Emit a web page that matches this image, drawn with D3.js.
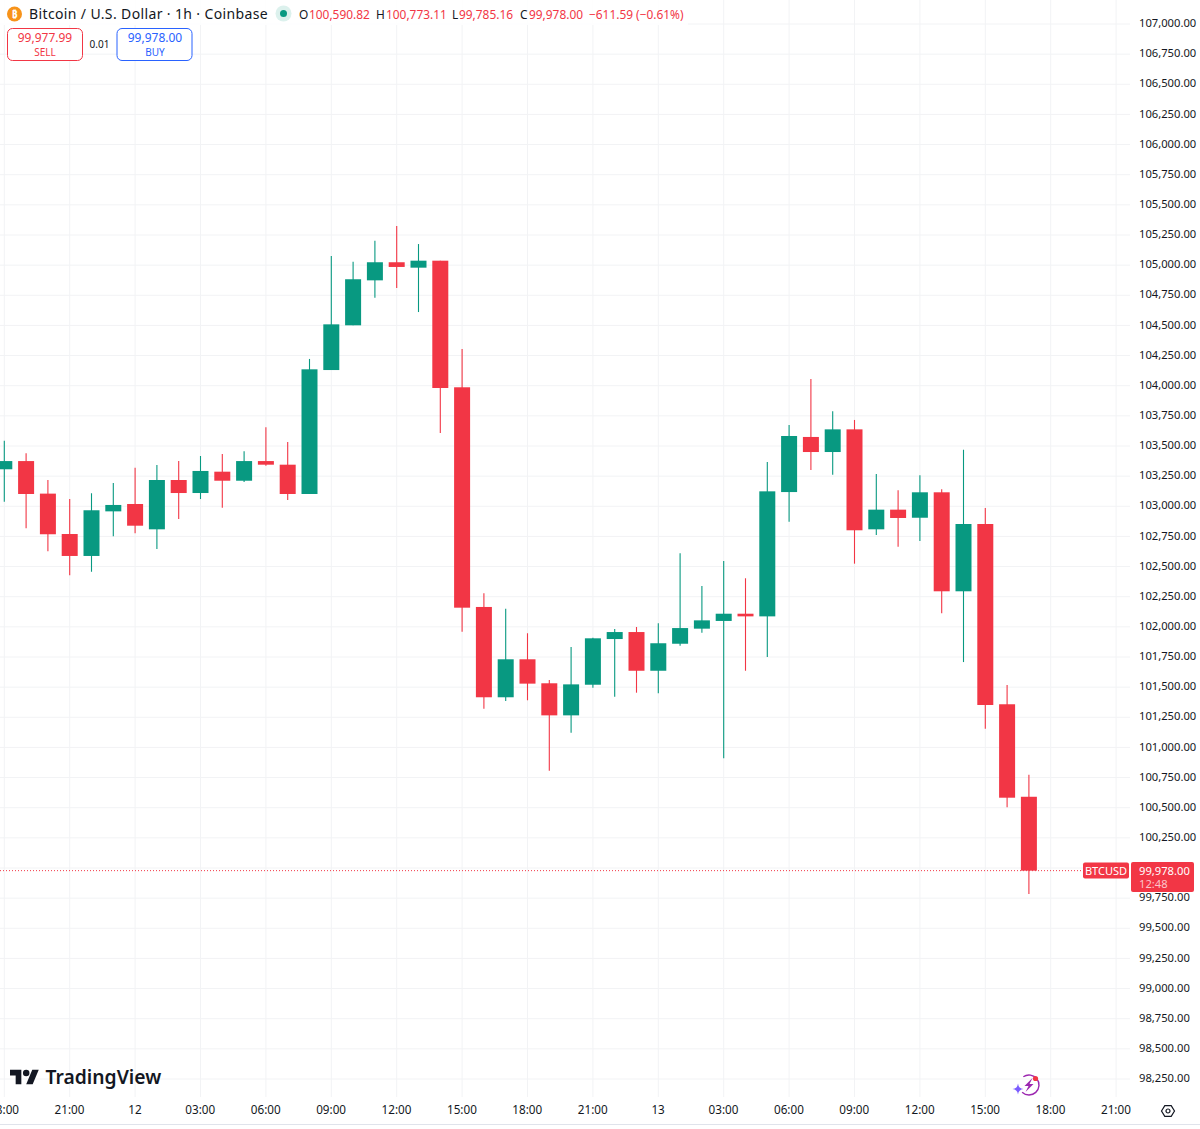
<!DOCTYPE html>
<html>
<head>
<meta charset="utf-8">
<title>BTCUSD 1h</title>
<script src="https://cdn.jsdelivr.net/npm/d3@7"></script>
<style>
  html, body { margin: 0; padding: 0; background: #fff; }
  text { font-family: "Noto Sans", sans-serif; }
</style>
</head>
<body>
<svg id="chart" width="1200" height="1129"></svg>
<script>
  // candles, one per hour, left to right
  var opens = [103307, 103375, 103105, 102770, 102588, 102958, 103019, 102809, 103218, 103110, 103287, 103212,
    103375, 103345, 103102, 104130, 104501, 104874, 105024, 104979, 105037, 103987, 102165, 101416,
    101731, 101532, 101266, 101520, 101899, 101957, 101636, 101860, 101985, 102049, 102109, 102087,
    103118, 103575, 103450, 103638, 102809, 102972, 102905, 103116, 102295, 102853, 101358, 100590.82];
  var highs = [103544, 103439, 103218, 103060, 103108, 103193, 103320, 103342, 103375, 103417, 103434, 103456,
    103655, 103533, 104222, 105076, 105029, 105203, 105325, 105175, 105037, 104304, 102278, 102151,
    101947, 101559, 101833, 101910, 101982, 101999, 102029, 102610, 102339, 102546, 102403, 103367,
    103674, 104056, 103788, 103716, 103268, 103132, 103257, 103141, 103469, 102986, 101518, 100773.11];
  var lows = [103038, 102817, 102627, 102428, 102457, 102751, 102776, 102646, 102894, 103060, 102988, 103201,
    103337, 103052, 103102, 104130, 104501, 104730, 104810, 104611, 103608, 101960, 101321, 101385,
    101391, 100807, 101122, 101495, 101421, 101454, 101449, 101844, 101951, 100910, 101636, 101750,
    102872, 103301, 103262, 102524, 102762, 102665, 102712, 102112, 101708, 101155, 100503, 99785.16];
  var closes = [103375, 103102, 102768, 102588, 102967, 103011, 102839, 103218, 103110, 103293, 103212, 103375,
    103345, 103102, 104136, 104509, 104883, 105024, 104985, 105037, 103981, 102159, 101416, 101731,
    101529, 101266, 101523, 101905, 101957, 101636, 101864, 101990, 102054, 102109, 102087, 103124,
    103583, 103450, 103638, 102801, 102972, 102903, 103116, 102295, 102853, 101352, 100583, 99978];

  var timeTicks = [0, 3, 6, 9, 12, 15, 18, 21, 24, 27, 30, 33, 36, 39, 42, 45, 48, 51];
  var timeLabels = ["18:00", "21:00", "12", "03:00", "06:00", "09:00", "12:00", "15:00", "18:00", "21:00", "13",
    "03:00", "06:00", "09:00", "12:00", "15:00", "18:00", "21:00"];
  var priceTicks = d3.range(98250, 107001, 250);
  var lastPrice = 99978;

  var GREEN = "#089981", RED = "#F23645", BLUE = "#2962FF", INK = "#131722", GRID = "#f2f3f5";

  var svg = d3.select("#chart");
  var x = d3.scaleLinear().domain([0, 47]).range([4.3, 1028.9]);
  var y = d3.scaleLinear().domain([107000, 98250]).range([24, 1079]);
  var paneRight = 1130, paneBottom = 1097;
  var candles = d3.range(opens.length);

  // grid
  svg.append("g").selectAll("line").data(priceTicks).join("line")
    .attr("x1", 0).attr("x2", paneRight)
    .attr("y1", function (d) { return y(d); }).attr("y2", function (d) { return y(d); })
    .attr("stroke", GRID);
  svg.append("g").selectAll("line").data(timeTicks).join("line")
    .attr("x1", function (d) { return x(d); }).attr("x2", function (d) { return x(d); })
    .attr("y1", 0).attr("y2", paneBottom)
    .attr("stroke", GRID);

  svg.append("rect").attr("width", 688).attr("height", 25).attr("fill", "#fff").attr("opacity", 0.85);

  // last price line sits behind the candles
  svg.append("line").attr("x1", 0).attr("x2", 1084)
    .attr("y1", y(lastPrice)).attr("y2", y(lastPrice))
    .attr("stroke", RED).attr("stroke-dasharray", "1 2");

  // candles
  var colour = function (i) { return closes[i] >= opens[i] ? GREEN : RED; };
  svg.append("g").selectAll("line").data(candles).join("line")
    .attr("x1", function (i) { return x(i); }).attr("x2", function (i) { return x(i); })
    .attr("y1", function (i) { return y(highs[i]); }).attr("y2", function (i) { return y(lows[i]); })
    .attr("stroke", colour).attr("stroke-width", 1.1);
  svg.append("g").selectAll("rect").data(candles).join("rect")
    .attr("x", function (i) { return x(i) - 8; }).attr("width", 16)
    .attr("y", function (i) { return y(Math.max(opens[i], closes[i])); })
    .attr("height", function (i) { return Math.abs(y(opens[i]) - y(closes[i])); })
    .attr("fill", colour);

  // axes, the 100,000 label is covered by the last price tag
  var priceAxis = svg.append("g").attr("transform", "translate(1139,-1)")
    .call(d3.axisRight(y).tickValues(priceTicks.filter(function (d) { return d !== 100000; }))
      .tickFormat(d3.format(",.2f")).tickSize(0).tickPadding(0));
  priceAxis.select(".domain").remove();
  priceAxis.selectAll("text").attr("font-size", 11.2).attr("fill", INK).style("font-family", '"Noto Sans", sans-serif');

  var timeAxis = svg.append("g").attr("transform", "translate(-0.7,1106)")
    .call(d3.axisBottom(x).tickValues(timeTicks)
      .tickFormat(function (d, i) { return timeLabels[i]; }).tickSize(0).tickPadding(0));
  timeAxis.select(".domain").remove();
  timeAxis.selectAll("text").attr("font-size", 11.7).attr("fill", INK).style("font-family", '"Noto Sans", sans-serif');

  svg.append("line").attr("x1", 0).attr("x2", 1200).attr("y1", 1124.5).attr("y2", 1124.5).attr("stroke", "#e0e3eb");

  // legend
  var text = function (px, py, str, size, fill, anchor) {
    return svg.append("text").attr("x", px).attr("y", py).attr("font-size", size)
      .attr("fill", fill).attr("text-anchor", anchor || "start").text(str);
  };
  svg.append("circle").attr("cx", 14.5).attr("cy", 14).attr("r", 7.5).attr("fill", "#F7931A");
  text(14.5, 17.5, "₿", 10, "#fff", "middle").attr("font-weight", 700);
  text(29, 19, "Bitcoin / U.S. Dollar · 1h · Coinbase", 14, INK).attr("letter-spacing", 0.37);
  svg.append("circle").attr("cx", 283.5).attr("cy", 13.5).attr("r", 8).attr("fill", GREEN).attr("opacity", 0.14);
  svg.append("circle").attr("cx", 283.5).attr("cy", 13.5).attr("r", 3.5).attr("fill", GREEN);

  text(299, 18.5, "O", 11.9, INK);
  text(309, 18.5, "100,590.82", 11.9, RED);
  text(376, 18.5, "H", 11.9, INK);
  text(386, 18.5, "100,773.11", 11.9, RED);
  text(452, 18.5, "L", 11.9, INK);
  text(459, 18.5, "99,785.16", 11.9, RED);
  text(520, 18.5, "C", 11.9, INK);
  text(529, 18.5, "99,978.00", 11.9, RED);
  text(589, 18.5, "−611.59 (−0.61%)", 11.9, RED);

  // sell / buy
  svg.append("rect").attr("x", 7.5).attr("y", 28.5).attr("width", 75).attr("height", 32).attr("rx", 5)
    .attr("fill", "#fff").attr("stroke", RED);
  text(45, 42, "99,977.99", 12, RED, "middle");
  text(45, 55.5, "SELL", 10, RED, "middle");
  text(99.5, 48, "0.01", 10, INK, "middle");
  svg.append("rect").attr("x", 117).attr("y", 28.5).attr("width", 75).attr("height", 32).attr("rx", 5)
    .attr("fill", "#fff").attr("stroke", BLUE);
  text(155, 42, "99,978.00", 12, BLUE, "middle");
  text(155, 55.5, "BUY", 10, BLUE, "middle");

  // last price labels
  svg.append("rect").attr("x", 1083).attr("y", 862.5).attr("width", 46).attr("height", 16).attr("rx", 2).attr("fill", RED);
  text(1106, 875, "BTCUSD", 11, "#fff", "middle");
  svg.append("rect").attr("x", 1131).attr("y", 862).attr("width", 63).attr("height", 30).attr("rx", 2).attr("fill", RED);
  text(1139, 874.5, "99,978.00", 11.2, "#fff");
  text(1139, 887.5, "12:48", 11.2, "#fbc5ca");

  // tradingview mark
  var logo = svg.append("g").attr("transform", "translate(10,1066.5) scale(0.81)").attr("fill", INK);
  logo.append("path").attr("d", "M14 22H7V11H0V4h14v18zM28 22h-8l7.5-18h8L28 22z");
  logo.append("circle").attr("cx", 20).attr("cy", 8).attr("r", 4);
  text(45.5, 1084, "TradingView", 19.3, INK).attr("font-weight", 600);

  // lightning badge
  var badge = svg.append("g").attr("transform", "translate(1029,1085)");
  badge.append("path").attr("d", d3.arc()({ innerRadius: 9.3, outerRadius: 10.7, startAngle: -0.6, endAngle: 3.9 }))
    .attr("fill", "#9c27b0");
  badge.append("path").attr("d", "M3.5 -7L-4.5 1H-0.5L-3.5 7L4.5 -1H0.5Z").attr("fill", "#9c27b0");
  badge.append("path").attr("d", "M-11 -1.5Q-10.5 3.5 -5.5 4Q-10.5 4.5 -11 9.5Q-11.5 4.5 -16.5 4Q-11.5 3.5 -11 -1.5Z").attr("fill", "#7b5cff");
  badge.append("circle").attr("cx", 6.5).attr("cy", -6.5).attr("r", 2.6).attr("fill", RED);

  // settings
  var gear = svg.append("g").attr("transform", "translate(1168,1111)").attr("fill", "none").attr("stroke", INK).attr("stroke-width", 1.2);
  gear.append("path").attr("d", "M-6.5 0L-3.2 -5.4H3.2L6.5 0L3.2 5.4H-3.2Z");
  gear.append("circle").attr("r", 2);
</script>
</body>
</html>
